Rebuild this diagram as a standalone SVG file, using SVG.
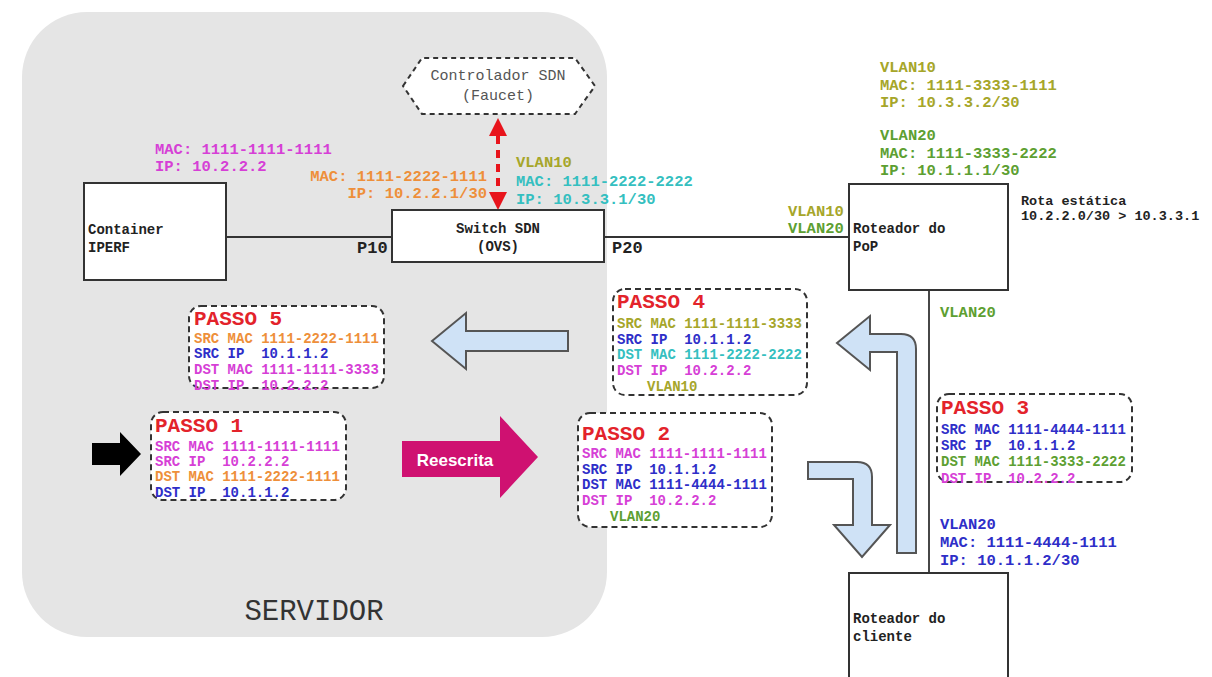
<svg xmlns="http://www.w3.org/2000/svg" width="1212" height="677" viewBox="0 0 1212 677">
<defs>
<style>
.m{font-family:"Liberation Mono","DejaVu Sans Mono",monospace;font-weight:bold}
.lbl{font-size:15.5px}
.ps{font-size:14px}
.bx{font-size:14px;fill:#222}
.tt{font-size:21px;fill:#e3232b}
.mg{fill:#d63fd6}.bl{fill:#2e2ec8}.or{fill:#ee8f3a}.ol{fill:#a6a62a}.tl{fill:#35bfc0}.gr{fill:#5d9f32}
.node{fill:#fff;stroke:#333;stroke-width:2}
.step{fill:#fff;stroke:#333;stroke-width:2;stroke-dasharray:6 4}
.wire{stroke:#333;stroke-width:1.8;fill:none}
.blue{fill:#cfe2f6;stroke:#555;stroke-width:2;stroke-linejoin:miter}
</style>
<marker id="rh" viewBox="0 0 10 10" refX="0" refY="5" markerWidth="18" markerHeight="18" markerUnits="userSpaceOnUse" orient="auto-start-reverse">
<path d="M0,0 L10,5 L0,10 z" fill="#e8141c"/>
</marker>
</defs>
<rect width="1212" height="677" fill="#fff"/>

<g id="servidor">
<rect x="22" y="12" width="585" height="625" rx="65" ry="65" fill="#e5e5e5"/>
<text x="314" y="620" text-anchor="middle" style="font-family:'Liberation Mono',monospace;font-size:29px;fill:#333">SERVIDOR</text>
</g>

<g id="connectors">
<line class="wire" x1="226" y1="237" x2="392" y2="237"/>
<line class="wire" x1="604" y1="237" x2="849" y2="237"/>
<line class="wire" x1="929" y1="290" x2="929" y2="573"/>
<line x1="498" y1="136" x2="498" y2="192" stroke="#e8141c" stroke-width="4" stroke-dasharray="8 6" marker-start="url(#rh)" marker-end="url(#rh)"/>
</g>

<g id="controlador">
<polygon points="403,86 422,58 575,58 595,86 575,114 422,114" fill="#fff" stroke="#333" stroke-width="2" stroke-dasharray="5 4"/>
<text x="498" y="80" text-anchor="middle" style="font-family:'Liberation Mono',monospace;font-size:15px;fill:#555">Controlador SDN</text>
<text x="498" y="100" text-anchor="middle" style="font-family:'Liberation Mono',monospace;font-size:15px;fill:#555">(Faucet)</text>
</g>

<g id="container">
<rect class="node" x="84" y="183" width="142" height="97"/>
<text class="m bx" x="88" y="234">Container</text>
<text class="m bx" x="88" y="252">IPERF</text>
<text class="m lbl mg" x="155" y="154">MAC: 1111-1111-1111</text>
<text class="m lbl mg" x="155" y="171">IP: 10.2.2.2</text>
</g>

<g id="switch">
<rect class="node" x="392" y="210" width="212" height="52"/>
<text class="m bx" x="498" y="233" text-anchor="middle">Switch SDN</text>
<text class="m bx" x="498" y="251" text-anchor="middle">(OVS)</text>
<text class="m lbl or" x="487" y="181" text-anchor="end">MAC: 1111-2222-1111</text>
<text class="m lbl or" x="487" y="198" text-anchor="end">IP: 10.2.2.1/30</text>
<text class="m lbl ol" x="516" y="167">VLAN10</text>
<text class="m lbl tl" x="516" y="186">MAC: 1111-2222-2222</text>
<text class="m lbl tl" x="516" y="204">IP: 10.3.3.1/30</text>
<text class="m" x="357" y="253" style="font-size:17px;fill:#222">P10</text>
<text class="m" x="612" y="253" style="font-size:17px;fill:#222">P20</text>
</g>

<g id="roteador-pop">
<rect class="node" x="849" y="184" width="159" height="106"/>
<text class="m bx" x="853" y="233">Roteador do</text>
<text class="m bx" x="853" y="251">PoP</text>
<text class="m lbl ol" x="788" y="216">VLAN10</text>
<text class="m lbl gr" x="788" y="233">VLAN20</text>
<text class="m lbl ol" x="880" y="72">VLAN10</text>
<text class="m lbl ol" x="880" y="90">MAC: 1111-3333-1111</text>
<text class="m lbl ol" x="880" y="107">IP: 10.3.3.2/30</text>
<text class="m lbl gr" x="880" y="140">VLAN20</text>
<text class="m lbl gr" x="880" y="158">MAC: 1111-3333-2222</text>
<text class="m lbl gr" x="880" y="175">IP: 10.1.1.1/30</text>
<text class="m" x="1021" y="205" style="font-size:13.5px;fill:#222">Rota estática</text>
<text class="m" x="1021" y="220" style="font-size:13.5px;fill:#222">10.2.2.0/30 &gt; 10.3.3.1</text>
<text class="m lbl gr" x="940" y="317">VLAN20</text>
</g>

<g id="roteador-cliente">
<rect class="node" x="849" y="573" width="159" height="110"/>
<text class="m bx" x="853" y="623">Roteador do</text>
<text class="m bx" x="853" y="641">cliente</text>
<text class="m lbl bl" x="940" y="529">VLAN20</text>
<text class="m lbl bl" x="940" y="547">MAC: 1111-4444-1111</text>
<text class="m lbl bl" x="940" y="565">IP: 10.1.1.2/30</text>
</g>

<g id="arrows">
<polygon points="92,443 120,443 120,432 141,454 120,476 120,465 92,465" fill="#000"/>
<polygon points="402,441 500,441 500,416 538,457 500,498 500,477 402,477" fill="#cf1171"/>
<text x="455" y="466" text-anchor="middle" style="font-family:'Liberation Sans',Arial,sans-serif;font-weight:bold;font-size:17px;fill:#fff">Reescrita</text>
<polygon class="blue" points="432,341 466,313 466,331 568,331 568,351 466,351 466,369"/>
<path class="blue" d="M897,553 L897,352 L870,352 L870,370 L837,343 L870,316 L870,334 L901,334 Q916,334 916,349 L916,553 Z"/>
<path class="blue" d="M808,462 L857,462 Q872,462 872,477 L872,525 L890,525 L862,557 L834,525 L853,525 L853,479 L808,479 Z"/>
</g>

<g id="passo5">
<rect class="step" x="189" y="306" width="195" height="82" rx="12"/>
<text class="m tt" x="194" y="325">PASSO 5</text>
<text class="m ps or" x="194" y="343" xml:space="preserve">SRC MAC 1111-2222-1111</text>
<text class="m ps bl" x="194" y="358" xml:space="preserve">SRC IP  10.1.1.2</text>
<text class="m ps mg" x="194" y="374" xml:space="preserve">DST MAC 1111-1111-3333</text>
<text class="m ps mg" x="194" y="390" xml:space="preserve">DST IP  10.2.2.2</text>
</g>

<g id="passo1">
<rect class="step" x="151" y="412" width="195" height="88" rx="12"/>
<text class="m tt" x="155" y="432">PASSO 1</text>
<text class="m ps mg" x="155" y="451" xml:space="preserve">SRC MAC 1111-1111-1111</text>
<text class="m ps mg" x="155" y="466" xml:space="preserve">SRC IP  10.2.2.2</text>
<text class="m ps or" x="155" y="481" xml:space="preserve">DST MAC 1111-2222-1111</text>
<text class="m ps bl" x="155" y="497" xml:space="preserve">DST IP  10.1.1.2</text>
</g>

<g id="passo2">
<rect class="step" x="578" y="413" width="194" height="114" rx="12"/>
<text class="m tt" x="582" y="440">PASSO 2</text>
<text class="m ps mg" x="582" y="458" xml:space="preserve">SRC MAC 1111-1111-1111</text>
<text class="m ps bl" x="582" y="474" xml:space="preserve">SRC IP  10.1.1.2</text>
<text class="m ps bl" x="582" y="489" xml:space="preserve">DST MAC 1111-4444-1111</text>
<text class="m ps mg" x="582" y="505" xml:space="preserve">DST IP  10.2.2.2</text>
<text class="m ps gr" x="610" y="521">VLAN20</text>
</g>

<g id="passo4">
<rect class="step" x="613" y="289" width="194" height="106" rx="12"/>
<text class="m tt" x="617" y="308">PASSO 4</text>
<text class="m ps ol" x="617" y="328" xml:space="preserve">SRC MAC 1111-1111-3333</text>
<text class="m ps bl" x="617" y="344" xml:space="preserve">SRC IP  10.1.1.2</text>
<text class="m ps tl" x="617" y="359" xml:space="preserve">DST MAC 1111-2222-2222</text>
<text class="m ps mg" x="617" y="375" xml:space="preserve">DST IP  10.2.2.2</text>
<text class="m ps ol" x="647" y="391">VLAN10</text>
</g>

<g id="passo3">
<rect class="step" x="937" y="394" width="195" height="88" rx="12"/>
<text class="m tt" x="941" y="414">PASSO 3</text>
<text class="m ps bl" x="941" y="434" xml:space="preserve">SRC MAC 1111-4444-1111</text>
<text class="m ps bl" x="941" y="450" xml:space="preserve">SRC IP  10.1.1.2</text>
<text class="m ps gr" x="941" y="466" xml:space="preserve">DST MAC 1111-3333-2222</text>
<text class="m ps mg" x="941" y="483" xml:space="preserve">DST IP  10.2.2.2</text>
</g>
</svg>
